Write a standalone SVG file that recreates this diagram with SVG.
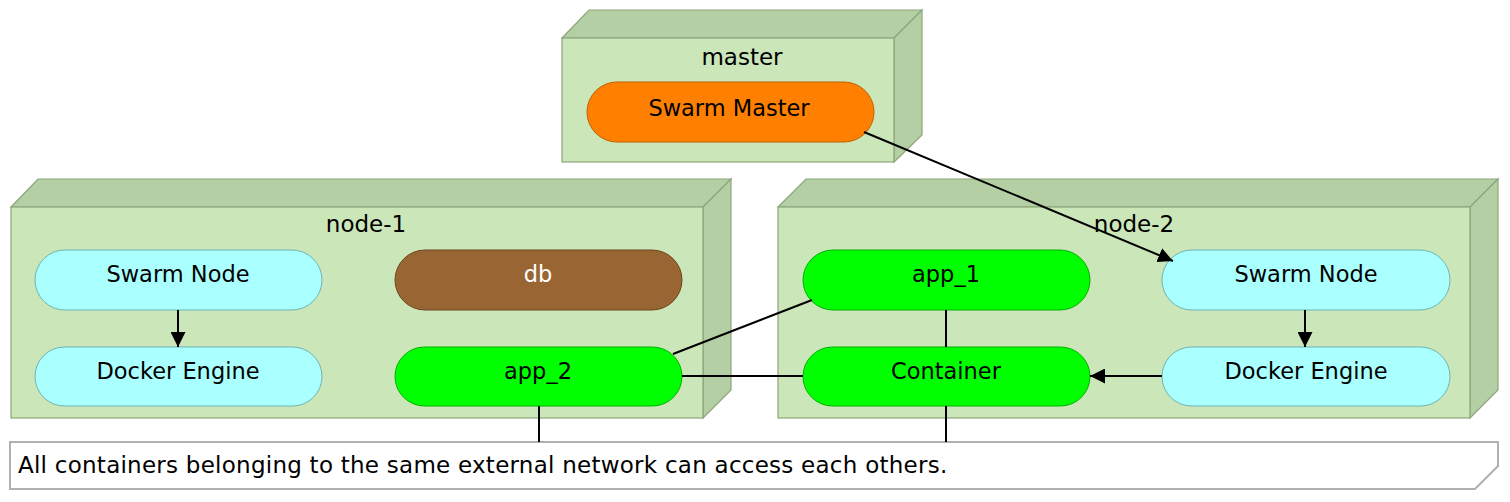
<svg xmlns="http://www.w3.org/2000/svg" width="1510" height="502" viewBox="0 0 1510 502">
<defs>
<style>
.front{fill:#cbe6b9;stroke:#8ca67b;stroke-width:1.2}
.side{fill:#b5cfa4;stroke:#8ca67b;stroke-width:1.2}
.title{font-family:"DejaVu Sans",sans-serif;font-size:23px;fill:#000;text-anchor:middle}
.lbl{font-family:"DejaVu Sans",sans-serif;font-size:22.5px;fill:#000;text-anchor:middle}
.cyan{fill:#aaffff;stroke:#6fb3b3;stroke-width:1}
.green{fill:#00ff00;stroke:#00b000;stroke-width:1}
.orange{fill:#ff8000;stroke:#c06000;stroke-width:1}
.brown{fill:#996633;stroke:#6b4520;stroke-width:1}
.edge{stroke:#000;stroke-width:2;fill:none}
.note{fill:#fff;stroke:#b0b0b0;stroke-width:2}
.notetxt{font-family:"DejaVu Sans",sans-serif;font-size:23px;letter-spacing:0.25px;fill:#000}
</style>
<marker id="arr" viewBox="0 0 10 10" refX="10" refY="5" markerWidth="15" markerHeight="15" markerUnits="userSpaceOnUse" orient="auto">
<path d="M0,0 L10,5 L0,10 Z" fill="#000"/>
</marker>
</defs>

<g id="master">
<polygon class="side" points="562,38 589,10 922,10 894,38"/>
<polygon class="side" points="894,38 922,10 922,135 894,162"/>
<rect class="front" x="562" y="38" width="332" height="124"/>
<text class="title" x="742" y="65">master</text>
</g>

<g id="node-1">
<polygon class="side" points="11,207 38,179 731,179 703,207"/>
<polygon class="side" points="703,207 731,179 731,390 703,418"/>
<rect class="front" x="11" y="207" width="692" height="211"/>
<text class="title" x="366" y="232">node-1</text>
</g>

<g id="node-2">
<polygon class="side" points="778,207 806,179 1498,179 1470,207"/>
<polygon class="side" points="1470,207 1498,179 1498,390 1470,418"/>
<rect class="front" x="778" y="207" width="692" height="211"/>
<text class="title" x="1134" y="232">node-2</text>
</g>

<g id="swarm-master">
<rect class="orange" x="587" y="82" width="287" height="60" rx="30"/>
<text class="lbl" x="729" y="116">Swarm Master</text>
</g>

<g id="n1-swarm-node">
<rect class="cyan" x="35" y="250" width="287" height="60" rx="30"/>
<text class="lbl" x="178" y="282">Swarm Node</text>
</g>
<g id="n1-docker-engine">
<rect class="cyan" x="35" y="347" width="287" height="59" rx="29.5"/>
<text class="lbl" x="178" y="379">Docker Engine</text>
</g>
<g id="db">
<rect class="brown" x="395" y="250" width="287" height="60" rx="30"/>
<text class="lbl" x="538" y="282" style="fill:#fff">db</text>
</g>
<g id="app_2">
<rect class="green" x="395" y="347" width="287" height="59" rx="29.5"/>
<text class="lbl" x="538" y="379">app_2</text>
</g>

<g id="app_1">
<rect class="green" x="803" y="250" width="287" height="60" rx="30"/>
<text class="lbl" x="946" y="282">app_1</text>
</g>
<g id="container">
<rect class="green" x="803" y="347" width="287" height="59" rx="29.5"/>
<text class="lbl" x="946" y="379">Container</text>
</g>
<g id="n2-swarm-node">
<rect class="cyan" x="1162" y="250" width="288" height="60" rx="30"/>
<text class="lbl" x="1306" y="282">Swarm Node</text>
</g>
<g id="n2-docker-engine">
<rect class="cyan" x="1162" y="347" width="288" height="59" rx="29.5"/>
<text class="lbl" x="1306" y="379">Docker Engine</text>
</g>

<g id="note">
<path class="note" d="M10,442 H1498 V466 L1475,489 H10 Z"/>
<text class="notetxt" x="18" y="473">All containers belonging to the same external network can access each others.</text>
</g>

<g id="connectors">
<line class="edge" x1="864" y1="132" x2="1173" y2="261" marker-end="url(#arr)"/>
<line class="edge" x1="178" y1="310" x2="178" y2="347" marker-end="url(#arr)"/>
<line class="edge" x1="1305" y1="310" x2="1305" y2="347" marker-end="url(#arr)"/>
<line class="edge" x1="1162" y1="376" x2="1090" y2="376" marker-end="url(#arr)"/>
<line class="edge" x1="673" y1="354" x2="812" y2="300"/>
<line class="edge" x1="682" y1="376" x2="803" y2="376"/>
<line class="edge" x1="946" y1="310" x2="946" y2="347"/>
<line class="edge" x1="539" y1="406" x2="539" y2="442"/>
<line class="edge" x1="946" y1="406" x2="946" y2="442"/>
</g>
</svg>
